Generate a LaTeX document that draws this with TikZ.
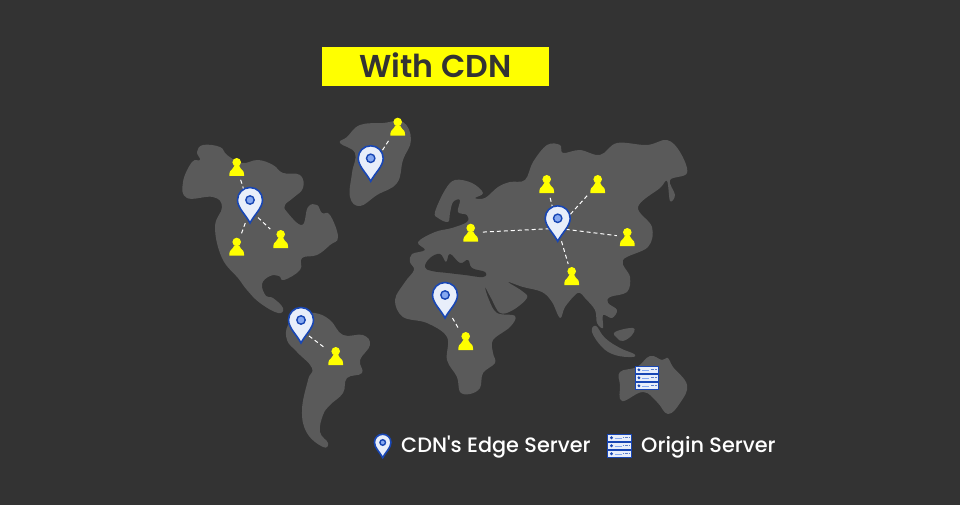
\documentclass[tikz,border=0pt]{standalone}
\usepackage{fontspec}
\newfontfamily\legendfont{Poppins Medium}[Ligatures=Discretionary]
\newfontfamily\titlefont{Poppins SemiBold}
\definecolor{bgdark}{HTML}{333333}
\definecolor{landgray}{HTML}{5A5A5A}
\definecolor{pinblue}{HTML}{1846B4}
\definecolor{pinpale}{HTML}{E8EEFA}
\definecolor{pindot}{HTML}{86A8F0}
\definecolor{useryellow}{HTML}{FFFF00}
\tikzset{
    land/.style={fill=landgray},
    sea/.style={fill=bgdark},
    pinspot/.style={minimum width=16pt, minimum height=26pt, inner sep=0pt, outer sep=0pt},
    userspot/.style={minimum width=15pt, minimum height=18pt, inner sep=0pt, outer sep=3pt},
    link/.style={white, line width=1pt, dash pattern=on 4pt off 3pt},
    legendtext/.style={white, font=\legendfont\fontsize{20.8}{24}\selectfont, anchor=base west, inner sep=0pt},
    pinicon/.pic={
        \filldraw[color=pinblue, fill=pinpale, line width=1.6pt] (0,23) .. controls (-4,15) and (-12.5,8) .. (-12.5,0)
            .. controls (-12.5,-7) and (-7,-12.5) .. (0,-12.5)
            .. controls (7,-12.5) and (12.5,-7) .. (12.5,0)
            .. controls (12.5,8) and (4,15) .. (0,23) -- cycle;
        \filldraw[color=pinblue, fill=pindot, line width=1.4pt] (0,0) circle (4.2);
    },
    usericon/.pic={
        \fill[useryellow] (0,-4.7) circle (4.3);
        \fill[useryellow] (-7.4,9) .. controls (-7.4,5) and (-6.5,3) .. (-4,1.5) -- (-2.5,-1) -- (2.5,-1) -- (4,1.5)
            .. controls (6.5,3) and (7.4,5) .. (7.4,9) -- cycle;
    },
    servericon/.pic={
        \foreach \row in {0,8,16} {
            \filldraw[color=pinblue, fill=pinpale, line width=1pt] (0,\row) rectangle (23.4,\row+7.6);
            \fill[pinblue] (3.6,\row+3.8) circle (1.6);
            \draw[color=pindot, line width=0.5pt] (7,\row+3.8) -- (14,\row+3.8);
            \draw[color=pinblue!70, line width=1.2pt, dash pattern=on 0.7pt off 0.6pt] (15.5,\row+3.8) -- (21.5,\row+3.8);
        }
    }
}
\newcommand{\placeuser}[2]{
    \node[userspot] (#1) at (#2) {};
    \pic at (#2) {usericon};
}
\newcommand{\placepin}[2]{
    \node[pinspot] (#1) at ([yshift=-10pt]#2) {};
}
\begin{document}
\begin{tikzpicture}[x=1pt, y=-1pt]
    \useasboundingbox (0,0) rectangle (960,505);
    \fill[bgdark] (0,0) rectangle (960,505);

    % north america
    \fill[land] plot[smooth cycle, tension=0.7] coordinates {
        (197,152) (203,145) (220,147) (227,155) (242,163) (258,160) (273,165) (283,173)
        (300,175) (303,188) (293,198) (285,205) (287,212) (302,225) (308,207) (317,205)
        (322,213) (330,215) (338,237) (330,245) (317,255) (302,258) (300,270) (284,280)
        (279,276) (270,276) (262,284) (266,296) (273,298) (283,308) (278,313) (260,303)
        (247,290) (238,278) (222,258) (215,227) (222,207) (213,197) (187,198) (183,182)
        (192,162) (200,160)};
    % south america
    \fill[land] plot[smooth cycle, tension=0.7] coordinates {
        (315,313) (330,320) (343,335) (363,335) (370,345) (360,360) (362,373) (347,378)
        (343,393) (330,405) (323,415) (320,432) (328,443) (323,447) (307,433) (302,410)
        (308,380) (312,368) (297,352) (287,340) (288,325) (300,315)};
    % greenland
    \fill[land] plot[smooth cycle, tension=0.7] coordinates {
        (360,125) (383,123) (403,122) (411,140) (403,160) (397,183) (377,195) (360,206)
        (350,197) (352,173) (355,153) (340,143) (347,137)};
    % europe, asia, africa
    \fill[land] plot[smooth cycle, tension=0.6] coordinates {
        (435,212) (445,190) (455,180) (472,183) (483,193) (475,198) (485,198) (498,187)
        (510,182) (525,180) (533,162) (547,145) (560,145) (563,153) (580,150) (600,155)
        (617,143) (647,145) (667,140) (680,152) (687,173) (670,180) (675,195) (670,201)
        (667,181) (660,188) (638,207) (652,227) (648,247) (623,260) (630,277) (627,292)
        (610,297) (608,303) (617,310) (612,318) (603,315) (603,328) (597,323) (595,310)
        (585,298) (580,293) (575,295) (565,307) (560,318) (552,302) (542,292) (523,287)
        (508,282) (522,291) (527,298) (513,310) (500,313) (491,298) (485,287) (489,300)
        (497,313) (515,316) (510,327) (493,340) (493,353) (495,363) (483,373) (480,388)
        (470,394) (460,392) (457,377) (447,360) (447,337) (427,323) (403,317) (395,300)
        (405,282) (414,270) (410,262) (412,254) (425,250) (418,242) (435,232) (452,228)
        (467,222) (467,215) (458,212) (460,200) (453,202) (450,213) (448,222) (438,218)};
    % mediterranean
    \fill[sea] plot[smooth cycle, tension=0.7] coordinates {
        (425,267) (430,258) (440,254) (446,262) (450,254) (460,263) (468,260) (472,268)
        (485,272) (483,277) (465,275) (448,273) (432,271)};
    % indonesia, australia
    \fill[land] plot[smooth cycle, tension=0.7] coordinates {
        (596,326) (605,338) (620,348) (634,354) (632,357) (615,355) (602,347) (592,332)};
    \fill[land] plot[smooth cycle, tension=0.7] coordinates {
        (615,332) (633,328) (632,335) (623,341) (617,338)};
    \fill[land] plot[smooth cycle, tension=0.7] coordinates {
        (620,372) (637,367) (650,356) (662,360) (668,358) (673,367) (687,385) (680,403)
        (668,414) (657,402) (643,392) (622,401) (620,385)};

    \placeuser{userarctic}{236.7,167}
    \placeuser{usergreen}{397.7,126.7}
    \placeuser{userwest}{236.7,246.7}
    \placeuser{usereast}{280.7,239}
    \placeuser{usereurope}{470.7,232.7}
    \placeuser{usersiberia}{546.7,184}
    \placeuser{usermongol}{597.7,184}
    \placeuser{userchina}{627.3,237}
    \placeuser{userindia}{571.7,276}
    \placeuser{usercongo}{465.7,341}
    \placeuser{userbrazil}{335.7,356}

    \placepin{pinnorth}{250,200}
    \placepin{pingreen}{370.7,158.3}
    \placepin{pinasia}{557.7,218.3}
    \placepin{pinafrica}{445,295}
    \placepin{pinsouth}{301,320}

    \draw[link] (pinnorth) -- (userarctic);
    \draw[link] (pinnorth) -- (userwest);
    \draw[link] (pinnorth) -- (usereast);
    \draw[link] (pingreen) -- (usergreen);
    \draw[link] (pinasia) -- (usereurope);
    \draw[link] (pinasia) -- (usersiberia);
    \draw[link] (pinasia) -- (usermongol);
    \draw[link] (pinasia) -- (userchina);
    \draw[link] (pinasia) -- (userindia);
    \draw[link] (pinafrica) -- (usercongo);
    \draw[link] (pinsouth) -- (userbrazil);

    \pic at (250,200) {pinicon};
    \pic at (370.7,158.3) {pinicon};
    \pic at (557.7,218.3) {pinicon};
    \pic at (445,295) {pinicon};
    \pic at (301,320) {pinicon};
    \pic at (635.3,366) {servericon};

    \node[fill=useryellow, minimum width=227.5pt, minimum height=38.5pt, inner sep=0pt, text=bgdark, text depth=2pt,
        font=\titlefont\fontsize{31.6}{36}\selectfont] (title) at (435.3,66.5) {With CDN};

    \pic[scale=0.66] at (382.7,442.5) {pinicon};
    \node[legendtext] (edgelabel) at (401,452) {CDN\symbol{39}s Edge Server};
    \pic at (607.9,434) {servericon};
    \node[legendtext] (originlabel) at (641,452) {Origin Server};
\end{tikzpicture}
\end{document}
